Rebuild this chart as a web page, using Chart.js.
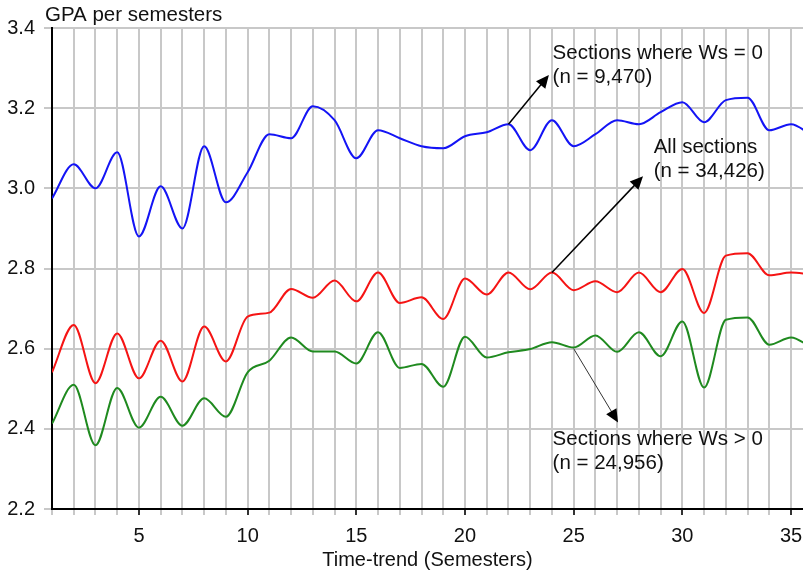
<!DOCTYPE html>
<html>
<head>
<meta charset="utf-8">
<title>GPA per semesters</title>
<script src="https://cdn.jsdelivr.net/npm/chart.js@4.4.1/dist/chart.umd.min.js"></script>
<style>
    html, body { margin: 0; padding: 0; background: #fff; }
    #wrap { width: 803px; height: 573px; }
</style>
</head>
<body>
<div id="wrap"><canvas id="gpa-chart"></canvas></div>
<script>
// Data
const semesters = [1, 2, 3, 4, 5, 6, 7, 8, 9, 10, 11, 12, 13, 14, 15, 16, 17, 18,
    19, 20, 21, 22, 23, 24, 25, 26, 27, 28, 29, 30, 31, 32, 33, 34, 35, 36];

const wsZero = [2.975, 3.06, 3.00, 3.09, 2.88, 3.005, 2.90, 3.105, 2.965, 3.04, 3.135, 3.125,
    3.205, 3.17, 3.075, 3.145, 3.125, 3.105, 3.10, 3.13, 3.14, 3.16, 3.095, 3.17,
    3.105, 3.135, 3.17, 3.16, 3.19, 3.215, 3.165, 3.22, 3.226, 3.145, 3.16, 3.13];

const allSections = [2.541, 2.659, 2.514, 2.638, 2.526, 2.62, 2.518, 2.655, 2.568, 2.68, 2.69, 2.749,
    2.727, 2.77, 2.718, 2.79, 2.714, 2.728, 2.674, 2.775, 2.735, 2.79, 2.748, 2.79,
    2.746, 2.768, 2.741, 2.79, 2.741, 2.799, 2.689, 2.832, 2.838, 2.783, 2.79, 2.785];

const wsAboveZero = [2.413, 2.51, 2.359, 2.502, 2.403, 2.48, 2.408, 2.476, 2.43, 2.541, 2.57, 2.628,
    2.593, 2.593, 2.563, 2.641, 2.552, 2.562, 2.505, 2.63, 2.578, 2.591, 2.599, 2.616,
    2.603, 2.633, 2.592, 2.641, 2.581, 2.668, 2.503, 2.672, 2.678, 2.61, 2.628, 2.60];

const yTicks = [2.2, 2.4, 2.6, 2.8, 3.0, 3.2, 3.4];
const xLabelEvery = 5;

// Callouts: text lines, arrow from a point on a curve to a point near the text (data units)
const callouts = [
    { lines: ['Sections where Ws = 0', '(n = 9,470)'], from: [22, 3.16], to: [23.86, 3.283], text: [24.03, 3.322], width: 1.5, color: '#000' },
    { lines: ['All sections', '(n = 34,426)'], from: [24, 2.79], to: [28.19, 3.03], text: [28.68, 3.087], width: 1.5, color: '#000' },
    { lines: ['Sections where Ws > 0', '(n = 24,956)'], from: [25, 2.60], to: [27.04, 2.416], text: [24.03, 2.36], width: 1, color: '#333' }
];

const FONT = '"Liberation Sans", Arial, sans-serif';
const GRID = '#c8c8c8';

function toPoints(values) {
    return semesters.map((s, i) => ({ x: s, y: values[i] }));
}

// Draw the y axis title and the arrows with their notes
const extrasPlugin = {
    id: 'extras',
    afterDraw(chart) {
        const ctx = chart.ctx;
        const xs = chart.scales.x;
        const ys = chart.scales.y;
        ctx.save();
        ctx.fillStyle = '#111';
        ctx.font = '20.5px ' + FONT;
        ctx.textBaseline = 'alphabetic';
        ctx.fillText('GPA per semesters', chart.chartArea.left - 7, 21);

        callouts.forEach((c) => {
            const x1 = xs.getPixelForValue(c.from[0]);
            const y1 = ys.getPixelForValue(c.from[1]);
            const x2 = xs.getPixelForValue(c.to[0]);
            const y2 = ys.getPixelForValue(c.to[1]);
            const ang = Math.atan2(y2 - y1, x2 - x1);
            const headLen = 13;
            const headW = 6;
            ctx.strokeStyle = c.color;
            ctx.fillStyle = '#000';
            ctx.lineWidth = c.width;
            ctx.beginPath();
            ctx.moveTo(x1, y1);
            ctx.lineTo(x2 - Math.cos(ang) * headLen * 0.8, y2 - Math.sin(ang) * headLen * 0.8);
            ctx.stroke();
            ctx.beginPath();
            ctx.moveTo(x2, y2);
            ctx.lineTo(x2 - Math.cos(ang) * headLen - Math.sin(ang) * headW, y2 - Math.sin(ang) * headLen + Math.cos(ang) * headW);
            ctx.lineTo(x2 - Math.cos(ang) * headLen + Math.sin(ang) * headW, y2 - Math.sin(ang) * headLen - Math.cos(ang) * headW);
            ctx.closePath();
            ctx.fill();

            ctx.fillStyle = '#111';
            ctx.font = '20.5px ' + FONT;
            const tx = xs.getPixelForValue(c.text[0]);
            const ty = ys.getPixelForValue(c.text[1]);
            c.lines.forEach((line, i) => ctx.fillText(line, tx, ty + i * 24));
        });
        ctx.restore();
    }
};

function lineSet(label, values, color) {
    return {
        label: label,
        data: toPoints(values),
        borderColor: color,
        borderWidth: 2,
        pointRadius: 0,
        cubicInterpolationMode: 'monotone',
        fill: false
    };
}

const ctx = document.getElementById('gpa-chart').getContext('2d');
const gpaChart = new Chart(ctx, {
    type: 'line',
    data: {
        datasets: [
            lineSet('Sections where Ws = 0', wsZero, '#1414f5'),
            lineSet('All sections', allSections, '#f51414'),
            lineSet('Sections where Ws > 0', wsAboveZero, '#1f8a1f')
        ]
    },
    options: {
        responsive: true,
        maintainAspectRatio: false,
        animation: false,
        layout: { padding: { top: 28, right: 0, left: 0, bottom: 0 } },
        plugins: {
            legend: { display: false },
            tooltip: { enabled: false }
        },
        scales: {
            x: {
                type: 'linear',
                min: 1,
                max: 35.55,
                afterFit: (scale) => {
                    scale.height = 64;
                    scale.paddingLeft = 0;
                    scale.paddingRight = 0;
                },
                ticks: {
                    stepSize: 1,
                    autoSkip: false,
                    includeBounds: false,
                    maxRotation: 0,
                    padding: 9,
                    color: '#111',
                    font: { family: FONT, size: 20 },
                    callback: (v) => (v % xLabelEvery === 0 ? v : '')
                },
                grid: {
                    color: GRID,
                    lineWidth: 2,
                    tickLength: 6,
                    tickColor: (c) => (c.tick && c.tick.value % xLabelEvery === 0 ? '#333' : GRID)
                },
                border: { color: '#000', width: 2 },
                title: {
                    display: true,
                    text: 'Time-trend (Semesters)',
                    color: '#111',
                    font: { family: FONT, size: 20 },
                    padding: { top: 0, bottom: 1 }
                }
            },
            y: {
                min: 2.2,
                max: 3.4,
                afterFit: (scale) => { scale.width = 52; },
                afterBuildTicks: (scale) => { scale.ticks = yTicks.map((v) => ({ value: v })); },
                ticks: {
                    padding: 9,
                    color: '#111',
                    font: { family: FONT, size: 20 },
                    callback: (v) => v.toFixed(1)
                },
                grid: {
                    color: GRID,
                    lineWidth: 2,
                    tickLength: 8
                },
                border: { color: '#000', width: 2 }
            }
        }
    },
    plugins: [extrasPlugin]
});
</script>
</body>
</html>
